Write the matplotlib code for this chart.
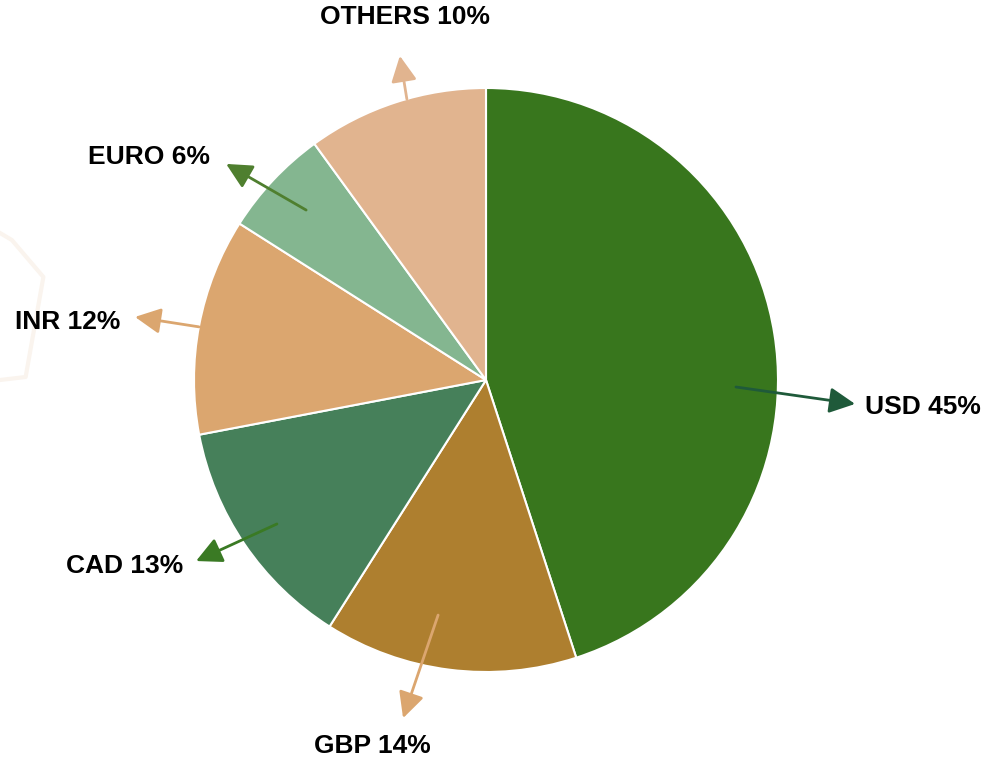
import matplotlib.pyplot as plt
from matplotlib.lines import Line2D

# Currency share data
currencies = ["USD", "GBP", "CAD", "INR", "EURO", "OTHERS"]
shares = [45, 14, 13, 12, 6, 10]

slice_colors = ["#38761d", "#ae7f2f", "#46805a", "#dba66f", "#84b690", "#e1b48f"]
arrow_colors = ["#1f5a3a", "#dba66f", "#3a7a24", "#dba66f", "#4f7f2f", "#e1b48f"]

# label layout (in pie-radius units): arrow tail, arrow head, text anchor, alignment
label_layout = [
    ((0.856, -0.024), (1.264, -0.082), (1.298, -0.092), "left"),
    ((-0.164, -0.805), (-0.284, -1.158), (-0.390, -1.253), "center"),
    ((-0.716, -0.493), (-0.993, -0.620), (-1.038, -0.637), "right"),
    ((-0.983, 0.182), (-1.202, 0.216), (-1.253, 0.199), "right"),
    ((-0.616, 0.582), (-0.890, 0.740), (-0.945, 0.764), "right"),
    ((-0.271, 0.962), (-0.295, 1.110), (-0.277, 1.243), "center"),
]

fig = plt.figure(figsize=(9.86, 7.59), dpi=100)

# faint background watermark on the left edge
fig.add_artist(Line2D([0.0, 0.012, 0.044, 0.026, 0.0],
                      [1 - 233 / 759, 1 - 240 / 759, 1 - 277 / 759, 1 - 377 / 759, 1 - 380 / 759],
                      color="#faf4ee", lw=3, zorder=0))

ax = fig.add_axes([0, 0, 1, 1])
ax.pie(shares, colors=slice_colors, startangle=90, counterclock=False,
       radius=1.0, wedgeprops=dict(edgecolor="white", linewidth=1.5))

for name, share, color, (tail, head, txt, ha) in zip(currencies, shares, arrow_colors, label_layout):
    ax.annotate("", xy=head, xytext=tail,
                arrowprops=dict(arrowstyle="-|>,head_length=0.6,head_width=0.3",
                                color=color, lw=2, mutation_scale=26,
                                shrinkA=0, shrinkB=0))
    ax.text(txt[0], txt[1], f"{name} {share}%", ha=ha, va="center",
            fontsize=19, fontweight="bold", family="Liberation Sans", color="black")

ax.set_xlim(-486 / 292, (986 - 486) / 292)
ax.set_ylim(-(759 - 380) / 292, 380 / 292)
ax.set_aspect("equal")
ax.axis("off")

plt.savefig("out.png", dpi=100)
